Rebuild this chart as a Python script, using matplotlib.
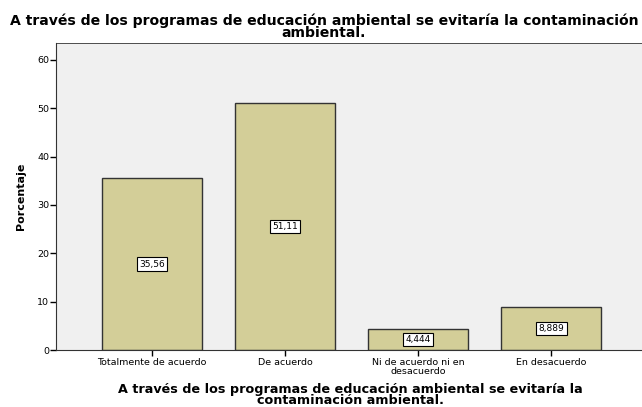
import numpy as np
import matplotlib.pyplot as plt

plt.rcParams['font.family'] = ['DejaVu Sans']

# Data
categories = ['Totalmente de acuerdo', 'De acuerdo', 'Ni de acuerdo ni en\ndesacuerdo', 'En desacuerdo']
porcentaje = [35.56, 51.11, 4.444, 8.889]
etiquetas = ['35,56', '51,11', '4,444', '8,889']
titulo = 'A través de los programas de educación ambiental se evitaría la contaminación\nambiental.'
xtitulo = 'A través de los programas de educación ambiental se evitaría la\ncontaminación ambiental.'

W, H = 642, 407
fig = plt.figure(figsize=(W / 100, H / 100), dpi=100)
ax = fig.add_axes([56 / W, 1 - 350 / H, (642 - 56) / W, (350 - 43) / H])
ax.set_facecolor('#F0F0F0')

x = np.arange(len(categories))
ax.bar(x, porcentaje, width=0.75, color='#D3CE98', edgecolor='#333333', linewidth=1.0)

for xi, v, t in zip(x, porcentaje, etiquetas):
    ax.text(xi, v / 2, t, ha='center', va='center', fontsize=6.5,
            bbox=dict(boxstyle='square,pad=0.25', fc='white', ec='black', lw=0.8))

ax.set_xlim(-0.72, 3.68)
ax.set_ylim(0, 63.5)
ax.set_yticks([0, 10, 20, 30, 40, 50, 60])
ax.set_xticks(x)
ax.set_xticklabels(categories, fontsize=6.8, linespacing=0.9)
ax.tick_params(axis='y', labelsize=6.8, length=4, width=1, pad=1)
ax.tick_params(axis='x', length=4, width=1, pad=2)

for s in ['left', 'bottom', 'top']:
    ax.spines[s].set_color('#333333')
ax.spines['right'].set_visible(False)
ax.spines['top'].set_linewidth(0.6)

ax.set_ylabel('Porcentaje', fontsize=8, fontweight='bold', labelpad=8)

fig.text(324 / W, 1 - 27 / H, titulo, ha='center', va='center', fontsize=10.05,
         fontweight='bold', linespacing=0.85)
fig.text(350 / W, 1 - 395 / H, xtitulo, ha='center', va='center', fontsize=9.2,
         fontweight='bold', linespacing=0.88)

fig.savefig('out.png', dpi=100, facecolor='white')
